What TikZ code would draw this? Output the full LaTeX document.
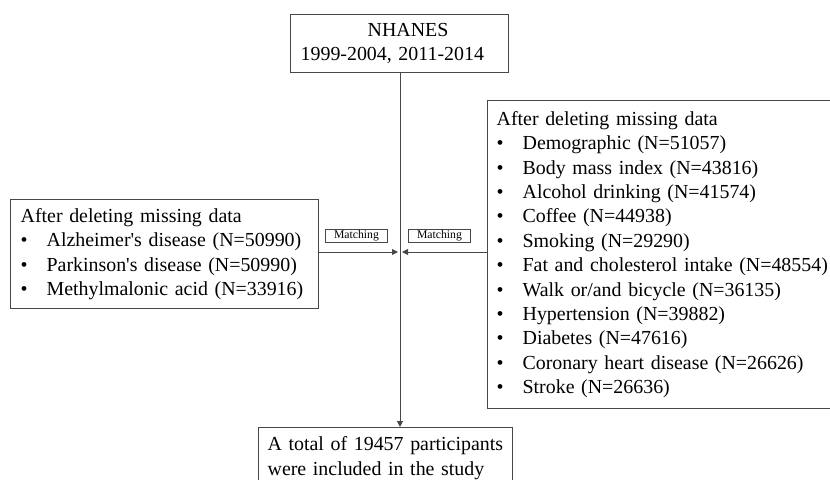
\documentclass[tikz,border=0pt]{standalone}
\usepackage{fontspec}
\setmainfont{Liberation Serif}
\usepackage{tikz}
\usetikzlibrary{positioning, arrows.meta, calc}
\definecolor{linegray}{rgb}{0.28,0.28,0.28}
\tikzstyle{bx}=[%
      rectangle, draw=linegray, line width=1.3bp, fill=none, anchor=north west,
      text ragged, align=left, inner xsep=9bp, inner ysep=5bp,
      font=\fontsize{19.9bp}{24.4bp}\selectfont
]
\tikzstyle{mt}=[%
      rectangle, draw=linegray, line width=0.9bp, fill=none, anchor=north west,
      minimum width=62bp, minimum height=13bp, inner sep=0pt,
      font=\fontsize{11.7bp}{13bp}\selectfont
]
\tikzstyle{conn}=[%
      draw=linegray, line width=0.9bp, -{Triangle[length=6bp,width=6bp]}
]
\newcommand{\bul}[1]{\makebox[26bp][l]{\textbullet}\mbox{#1}}

\begin{document}
\begin{tikzpicture}[x=1bp, y=-1bp]
    \useasboundingbox (0,0) rectangle (830,480);

    \node[bx, minimum width=218bp, minimum height=58bp, text width=198bp, inner xsep=10bp]
        (nhanes) at (290,14) {\hspace*{67bp}NHANES\\\mbox{1999-2004, 2011-2014}};
    \node[bx, minimum width=308bp, minimum height=109bp, text width=288bp, inner xsep=10bp]
        (exposure) at (10,199) {\mbox{After deleting missing data}\\
        \bul{Alzheimer\textquotesingle s disease (N=50990)}\\
        \bul{Parkinson\textquotesingle s disease (N=50990)}\\
        \bul{Methylmalonic acid (N=33916)}};
    \node[bx, minimum width=353bp, minimum height=308bp, text width=335bp]
        (covar) at (487,100) {\mbox{After deleting missing data}\\
        \bul{Demographic (N=51057)}\\
        \bul{Body mass index (N=43816)}\\
        \bul{Alcohol drinking (N=41574)}\\
        \bul{Coffee (N=44938)}\\
        \bul{Smoking (N=29290)}\\
        \bul{Fat and cholesterol intake (N=48554)}\\
        \bul{Walk or/and bicycle (N=36135)}\\
        \bul{Hypertension (N=39882)}\\
        \bul{Diabetes (N=47616)}\\
        \bul{Coronary heart disease (N=26626)}\\
        \bul{Stroke (N=26636)}};
    \node[bx, minimum width=254bp, text width=236bp, inner ysep=9bp]
        (total) at (258,427) {\mbox{A total of 19457 participants}\\\mbox{were included in the study}};
    \node[mt] (match1) at (325,229) {Matching};
    \node[mt] (match2) at (408,229) {Matching};

    \coordinate (mid) at (400,252);

    \draw[conn] (nhanes.south -| mid) -- (total.north -| mid);
    \draw[conn] (exposure.east |- mid) -- ([xshift=-2bp]mid);
    \draw[conn] (covar.west |- mid) -- ([xshift=2bp]mid);
\end{tikzpicture}
\end{document}
